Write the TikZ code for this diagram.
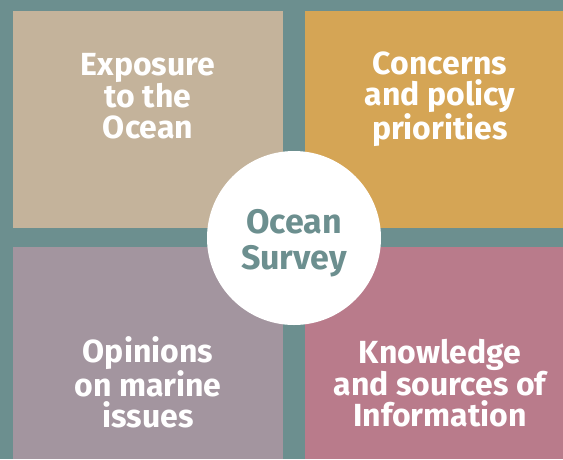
\documentclass[tikz,border=0pt]{standalone}
\usepackage{fontspec}
\setmainfont{Fira Sans}
\definecolor{frame}{HTML}{6C8F8F}
\definecolor{sand}{HTML}{C4B39B}
\definecolor{ochre}{HTML}{D5A555}
\definecolor{mauve}{HTML}{A3959F}
\definecolor{rose}{HTML}{B97B8B}
\tikzset{
  panel/.style={rectangle, inner sep=0pt, outer sep=0pt},
  panellabel/.style={text=white, align=center, inner sep=0pt,
    font=\bfseries\fontsize{32}{31}\selectfont},
  hub/.style={circle, fill=white, inner sep=0pt, minimum size=174pt},
  hublabel/.style={text=frame, align=center, inner sep=0pt,
    font=\bfseries\fontsize{34}{36}\selectfont}
}
\begin{document}
\begin{tikzpicture}[x=1pt,y=-1pt]
  % background frame
  \fill[frame] (0,0) rectangle (563,459);
  \useasboundingbox (0,0) rectangle (563,459);
  % four quadrants
  \node[panel, fill=sand, minimum width=270pt, minimum height=217pt] (nw) at (148,119.5) {};
  \node[panel, fill=ochre, minimum width=258pt, minimum height=217pt] (ne) at (434,119.5) {};
  \node[panel, fill=mauve, minimum width=270pt, minimum height=212pt] (sw) at (148,353) {};
  \node[panel, fill=rose, minimum width=258pt, minimum height=212pt] (se) at (434,353) {};
  % quadrant titles
  \node[panellabel] (nwtext) at (148,96) {Exposure\\to the\\Ocean};
  \node[panellabel] (netext) at (440,99.5) {Concerns\\and policy\\priorities};
  \node[panellabel] (swtext) at (148,382) {Opinions\\on marine\\issues};
  \node[panellabel] (setext) at (440,383) {Knowledge\\and sources of\\Information};
  % central circle
  \node[hub] (center) at (294,238) {};
  \node[hublabel] (centertext) at (294,243.5) {Ocean\\Survey};
\end{tikzpicture}
\end{document}
